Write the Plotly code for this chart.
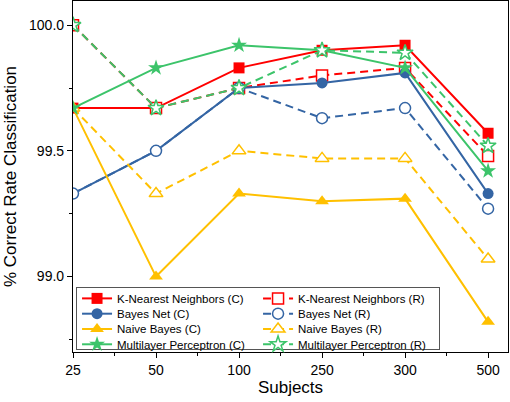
import plotly.graph_objects as go

subjects = ["25", "50", "100", "250", "300", "500"]

knn_c = [99.67, 99.67, 99.83, 99.90, 99.92, 99.57]
knn_r = [100.0, 99.67, 99.75, 99.80, 99.83, 99.48]
bnet_c = [99.33, 99.50, 99.75, 99.77, 99.81, 99.33]
bnet_r = [99.33, 99.50, 99.75, 99.63, 99.67, 99.27]
nb_c = [99.67, 99.00, 99.33, 99.30, 99.31, 98.82]
nb_r = [99.67, 99.33, 99.50, 99.47, 99.47, 99.07]
mlp_c = [99.67, 99.83, 99.92, 99.90, 99.83, 99.42]
mlp_r = [100.0, 99.67, 99.75, 99.90, 99.89, 99.52]

RED = "#FF0000"
BLUE = "#3465A4"
YEL = "#FFC000"
GRN = "#3CC46A"

xs = list(range(len(subjects)))

series = [
    ("K-Nearest Neighbors (C)", knn_c, RED, "square", True),
    ("K-Nearest Neighbors (R)", knn_r, RED, "square", False),
    ("Bayes Net (C)", bnet_c, BLUE, "circle", True),
    ("Bayes Net (R)", bnet_r, BLUE, "circle", False),
    ("Naive Bayes (C)", nb_c, YEL, "triangle-up", True),
    ("Naive Bayes (R)", nb_r, YEL, "triangle-up", False),
    ("Multilayer Perceptron (C)", mlp_c, GRN, "star", True),
    ("Multilayer Perceptron (R)", mlp_r, GRN, "star", False),
]

fig = go.Figure()
for name, ys, col, sym, filled in series:
    fig.add_trace(go.Scatter(
        x=xs, y=ys, name=name, mode="lines+markers",
        line=dict(color=col, width=2, dash="solid" if filled else "8px,5px"),
        marker=dict(symbol=sym, size=11 if sym in ("square", "circle") else 12,
                    color=col if filled else "white",
                    line=dict(color=col, width=0 if filled else 1.5)),
    ))

fig.update_layout(
    width=510, height=402,
    margin=dict(l=73, r=2, t=1, b=50, autoexpand=False),
    paper_bgcolor="white", plot_bgcolor="white",
    font=dict(family="Liberation Sans, Arial, sans-serif", size=14, color="#000"),
    showlegend=True,
    legend=dict(
        orientation="h", x=0.007, y=0.006, xanchor="left", yanchor="bottom",
        entrywidth=136, entrywidthmode="pixels", itemwidth=30,
        bgcolor="white", bordercolor="#555", borderwidth=1,
        font=dict(size=11.5), traceorder="normal",
    ),
)

fig.update_xaxes(
    range=[0, 5.24], tickvals=xs, ticktext=subjects,
    showline=True, linecolor="#000", linewidth=1.2, mirror=True,
    ticks="outside", ticklen=5, tickcolor="#000",
    minor=dict(dtick=0.5, tick0=0, ticks="outside", ticklen=3, tickcolor="#000"),
    showgrid=False, zeroline=False,
    title=dict(text="Subjects", font=dict(size=17), standoff=4),
    tickfont=dict(size=14),
)
fig.update_yaxes(
    range=[98.70, 100.096], tickvals=[99.0, 99.5, 100.0], ticktext=["99.0", "99.5", "100.0"],
    showline=True, linecolor="#000", linewidth=1.2, mirror=True,
    ticks="outside", ticklen=5, tickcolor="#000",
    minor=dict(tickvals=[98.75, 99.25, 99.75], ticks="outside", ticklen=3, tickcolor="#000"),
    showgrid=False, zeroline=False,
    title=dict(text="% Correct Rate Classification", font=dict(size=17), standoff=8),
    tickfont=dict(size=14),
)

# compact the legend rows (15 px apart) after plotly has drawn it
post_js = """
document.body.style.margin = '0';
(function(){
  var gd = document.getElementById('{plot_id}');
  function fix(){
    if(!gd) return false;
    var leg = gd.querySelector('g.legend');
    if(!leg) return false;
    if(leg.getAttribute('data-compact')) return true;
    var items = leg.querySelectorAll('g.traces');
    if(!items.length) return false;
    var re = /translate\\(\\s*([-\\d.e]+)[\\s,]+([-\\d.e]+)\\s*\\)/;
    var ys = [];
    items.forEach(function(it){
      var m = re.exec(it.getAttribute('transform') || '');
      if(m) ys.push(parseFloat(m[2]));
    });
    var rows = Array.from(new Set(ys.map(function(v){return Math.round(v*10)/10;}))).sort(function(a,b){return a-b;});
    var y0 = rows[0];
    var rowH = 15.3;
    items.forEach(function(it){
      var m = re.exec(it.getAttribute('transform') || '');
      if(!m) return;
      var y = Math.round(parseFloat(m[2])*10)/10;
      var idx = rows.indexOf(y);
      it.setAttribute('transform', 'translate(' + m[1] + ',' + (y0 - 4 + idx*rowH) + ')');
    });
    var bg = leg.querySelector('rect.bg');
    var H = parseFloat(bg.getAttribute('height'));
    var newH = 62;
    bg.setAttribute('height', newH);
    var m2 = re.exec(leg.getAttribute('transform') || '');
    if(m2) leg.setAttribute('transform', 'translate(' + m2[1] + ',' + (parseFloat(m2[2]) + (H - newH)) + ')');
    leg.setAttribute('data-compact', '1');
    return true;
  }
  if(!fix()){
    var n = 0;
    var t = setInterval(function(){ if(fix() || ++n > 50) clearInterval(t); }, 20);
  }
})();
"""

fig.write_html("out.html", post_script=post_js, config={"displayModeBar": False})
